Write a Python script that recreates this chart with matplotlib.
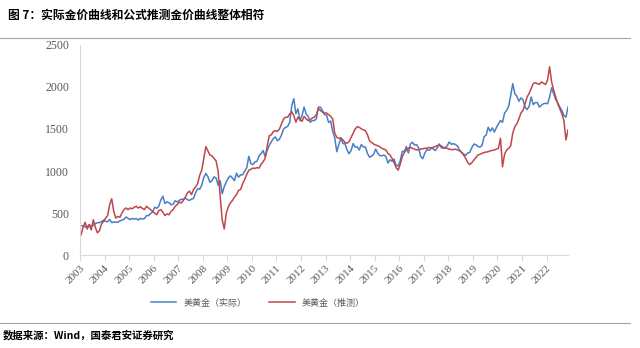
import numpy as np
import matplotlib
matplotlib.use('Agg')
import matplotlib.pyplot as plt

plt.rcParams['font.family'] = ['Noto Sans CJK SC', 'DejaVu Sans']

# monthly values, Jan 2003 .. Nov 2022
gold_actual = [
    350, 348, 335, 337, 361, 346, 355, 375, 385, 386, 398, 416,   # 2003
    401, 397, 423, 388, 393, 392, 391, 407, 415, 426, 453, 438,   # 2004
    422, 435, 428, 435, 417, 437, 429, 434, 469, 470, 495, 513,   # 2005
    569, 556, 583, 654, 700, 613, 633, 623, 599, 604, 646, 632,   # 2006
    650, 665, 662, 679, 659, 650, 666, 673, 743, 789, 783, 834,   # 2007
    923, 971, 933, 865, 885, 930, 918, 833, 884, 730, 814, 869,   # 2008
    919, 942, 916, 884, 975, 926, 955, 955, 1001, 1040, 1175, 1087,  # 2009
    1078, 1108, 1115, 1180, 1207, 1244, 1169, 1246, 1307, 1346, 1386, 1405,  # 2010
    1360, 1380, 1430, 1500, 1520, 1530, 1580, 1780, 1860, 1680, 1740, 1600,  # 2011
    1660, 1760, 1680, 1650, 1580, 1600, 1600, 1620, 1760, 1760, 1720, 1670,  # 2012
    1664, 1578, 1595, 1472, 1394, 1230, 1314, 1396, 1326, 1324, 1253, 1205,  # 2013
    1244, 1326, 1284, 1288, 1250, 1315, 1285, 1286, 1208, 1164, 1175, 1199,  # 2014
    1260, 1213, 1183, 1180, 1190, 1172, 1095, 1134, 1115, 1142, 1065, 1061,  # 2015
    1118, 1234, 1233, 1291, 1214, 1322, 1342, 1309, 1315, 1273, 1174, 1146,  # 2016
    1211, 1254, 1245, 1268, 1268, 1242, 1269, 1322, 1280, 1271, 1275, 1303,  # 2017
    1345, 1318, 1325, 1315, 1298, 1250, 1224, 1201, 1187, 1215, 1221, 1279,  # 2018
    1321, 1313, 1292, 1284, 1305, 1409, 1427, 1520, 1472, 1513, 1463, 1517,  # 2019
    1560, 1600, 1580, 1690, 1720, 1770, 1900, 2040, 1920, 1890, 1830, 1870,  # 2020
    1848, 1760, 1730, 1769, 1880, 1790, 1814, 1814, 1760, 1783, 1800, 1806,  # 2021
    1800, 1880, 1990, 1920, 1850, 1810, 1760, 1720, 1660, 1640, 1760,        # 2022
]
gold_model = [
    240, 330, 390, 310, 360, 300, 420, 330, 265, 290, 370, 400,   # 2003
    440, 470, 600, 670, 520, 440, 460, 450, 500, 540, 560, 540,   # 2004
    560, 550, 570, 580, 560, 575, 555, 540, 580, 560, 540, 520,   # 2005
    500, 480, 530, 540, 510, 470, 490, 480, 520, 540, 580, 600,   # 2006
    630, 620, 650, 690, 740, 760, 720, 780, 810, 850, 950, 1010,  # 2007
    1150, 1290, 1240, 1190, 1180, 1150, 1120, 1000, 700, 420, 310, 500,  # 2008
    575, 620, 650, 690, 720, 770, 780, 850, 900, 960, 1010, 1020,  # 2009
    1035, 1030, 1040, 1035, 1080, 1110, 1150, 1300, 1420, 1430, 1470, 1480,  # 2010
    1470, 1500, 1560, 1620, 1640, 1640, 1680, 1705, 1660, 1580, 1640, 1610,  # 2011
    1590, 1650, 1620, 1600, 1610, 1630, 1640, 1670, 1745, 1720, 1700, 1690,  # 2012
    1690, 1670, 1650, 1620, 1450, 1400, 1390, 1390, 1370, 1340, 1330, 1350,  # 2013
    1400, 1450, 1500, 1527, 1520, 1500, 1490, 1480, 1430, 1360, 1340, 1320,  # 2014
    1310, 1300, 1290, 1270, 1260, 1250, 1210, 1190, 1150, 1100, 1040, 1010,  # 2015
    1080, 1170, 1220, 1250, 1273, 1280, 1270, 1260, 1250, 1255, 1260, 1265,  # 2016
    1270, 1270, 1280, 1275, 1280, 1290, 1300, 1310, 1300, 1280, 1275, 1270,  # 2017
    1260, 1255, 1255, 1260, 1250, 1240, 1220, 1190, 1150, 1100, 1075, 1100,  # 2018
    1130, 1160, 1190, 1200, 1210, 1220, 1225, 1230, 1240, 1245, 1250, 1260,  # 2019
    1270, 1390, 1050, 1200, 1250, 1270, 1300, 1450, 1527, 1560, 1620, 1690,  # 2020
    1720, 1800, 1880, 1924, 1980, 2040, 2050, 2040, 2030, 2060, 2043, 2030,  # 2021
    2080, 2240, 2060, 1960, 1880, 1800, 1740, 1680, 1600, 1370, 1490,        # 2022
]
years = list(range(2003, 2023))

t = 2003 + (np.arange(len(gold_actual)) + 0.5) / 12.0

fig = plt.figure(figsize=(6.4, 3.48), dpi=100)
ax = fig.add_axes([0.125, 0.267, 0.7625, 0.604])

blue = '#4A7EC4'
red = '#C0464A'
ax.plot(t, gold_actual, color=blue, lw=1.1, label='美黄金（实际）')
ax.plot(t, gold_model, color=red, lw=1.1, label='美黄金（推测）')

ax.set_xlim(2003, t[-1])
ax.set_ylim(0, 2500)
ax.set_yticks(range(0, 2501, 500))
ax.set_xticks(years)
ax.set_xticklabels([str(y) for y in years], rotation=45, ha='right',
                   rotation_mode='anchor')
ax.tick_params(labelfontfamily='Liberation Serif', labelcolor='#595959')
ax.tick_params(axis='y', length=0, pad=8, labelsize=8.5)
ax.tick_params(axis='x', length=4, color='#D9D9D9', pad=2, labelsize=8)

for s in ['top', 'right']:
    ax.spines[s].set_visible(False)
for s in ['left', 'bottom']:
    ax.spines[s].set_color('#D9D9D9')
    ax.spines[s].set_linewidth(0.8)

fig.legend(loc='center', bbox_to_anchor=(258 / 640, 1 - 303 / 348),
           ncol=2, frameon=False, fontsize=6.5, handlelength=2.8,
           columnspacing=2.5, labelcolor='#595959')

fig.text(8 / 640, 1 - 15 / 348, '图 7：实际金价曲线和公式推测金价曲线整体相符',
         fontsize=8.5, fontweight='bold', va='center', ha='left')
fig.add_artist(plt.Line2D([0, 630 / 640], [1 - 38 / 348] * 2,
                          color='#A6A6A6', lw=0.8))
fig.add_artist(plt.Line2D([0, 630 / 640], [1 - 323 / 348] * 2,
                          color='#A6A6A6', lw=0.8))
fig.text(3 / 640, 1 - 335 / 348, '数据来源：Wind，国泰君安证券研究',
         fontsize=7.5, fontweight='bold', va='center', ha='left')

fig.savefig('out.png', dpi=100, facecolor='white')
